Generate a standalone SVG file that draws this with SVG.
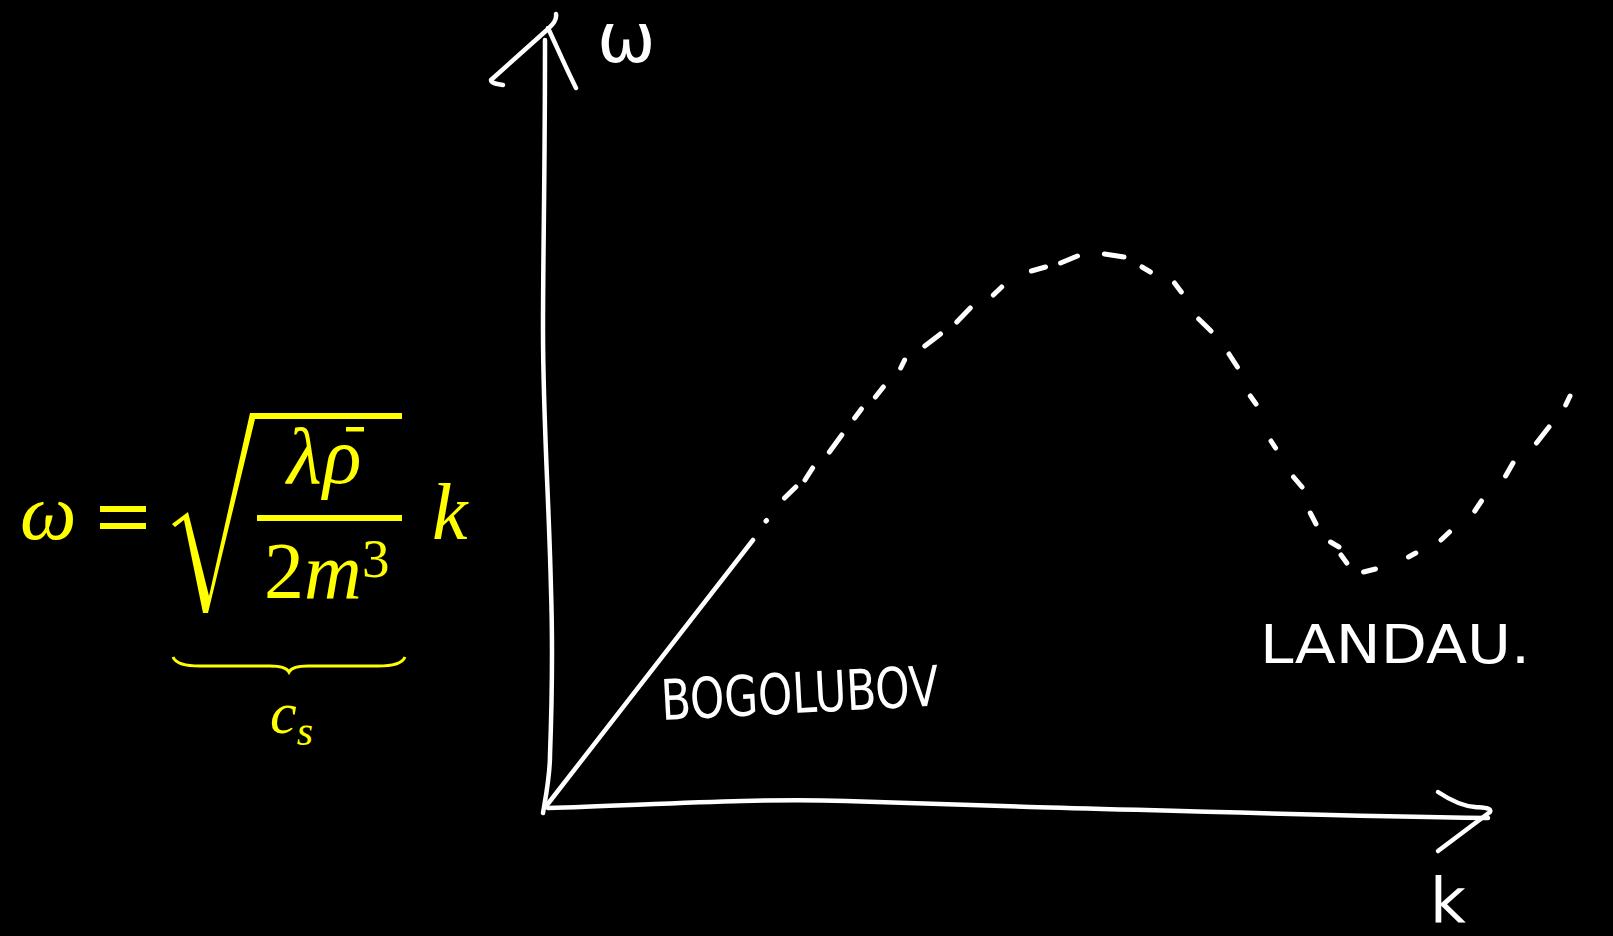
<svg xmlns="http://www.w3.org/2000/svg" width="1613" height="936" viewBox="0 0 1613 936">
<style>
.ink{fill:none;stroke:#ffffff;stroke-width:4.5;stroke-linecap:round;stroke-linejoin:round}
.dash{fill:none;stroke:#ffffff;stroke-width:5;stroke-linecap:round}
.hand{fill:#ffffff;font-family:"DejaVu Sans",sans-serif}
.eq{fill:#ffff00;font-family:"Liberation Serif","Times New Roman",serif}
.it{font-style:italic}
</style>
<rect x="0" y="0" width="1613" height="936" fill="#000000"/>
<g id="equation">
  <text class="eq it" x="20" y="539" font-size="80">ω</text>
  <rect x="100" y="506" width="46" height="6" fill="#ffff00"/>
  <rect x="100" y="523" width="46" height="6" fill="#ffff00"/>
  <polygon fill="#ffff00" points="172,524 188,512 209,596 250,413 402,413 402,419 255,419 208,613 203,613 184,520 175,527"/>
  <text class="eq it" x="287" y="483" font-size="80">λ</text>
  <text class="eq it" x="323" y="483" font-size="80">ρ</text>
  <rect x="346" y="427" width="18" height="4.5" fill="#ffff00"/>
  <rect x="257" y="515" width="145" height="6" fill="#ffff00"/>
  <text class="eq" x="264" y="598" font-size="80">2<tspan class="it">m</tspan></text>
  <text class="eq" x="362" y="577" font-size="55">3</text>
  <text class="eq it" x="432" y="539" font-size="80">k</text>
  <path d="M 173,657 C 176,664 185,666 200,666 L 270,666 C 282,666 287,668 289,672 C 291,668 296,666 308,666 L 378,666 C 393,666 402,664 405,657" fill="none" stroke="#ffff00" stroke-width="3"/>
  <text class="eq it" x="270" y="733" font-size="60">c<tspan font-size="42" dy="12">s</tspan></text>
</g>
<g id="axes">
  <path class="ink" d="M 543,813 C 547,790 550,775 550,755 C 552,700 553,650 551,590 C 549,500 543,420 543,330 C 543,250 545,180 545,40"/>
  <path class="ink" d="M 503,85 C 497,84 491,83 491,80 L 548,29 C 553,24 557,20 556,14 M 548,28 C 556,45 566,68 576,88"/>
  <path class="ink" d="M 548,808 C 650,805 750,798 846,801 C 950,804 1000,806 1030,807 C 1150,810 1300,815 1488,818"/>
  <path class="ink" d="M 1438,792 C 1450,800 1462,806 1475,807 C 1485,808 1492,808 1490,812 L 1438,851"/>
</g>
<g id="connectors">
  <path class="ink" d="M 547,805 L 753,540"/>
  <path class="dash" d="M 766,521 L 766.5,520.5 M 784.5,498 L 795.8,487 M 805,480 L 812.6,468 M 829.4,452 L 841.8,435 M 854.7,418 L 861.4,409 M 875.4,397 L 883.3,387 M 900.7,368 L 904.6,360 M 924.8,346 L 940.5,334 M 956.8,322 L 970.3,308 M 993.3,295 L 1001.7,287 M 1031.4,271 L 1045.5,267 M 1060.6,263 L 1077.5,256 M 1104.4,254 L 1124,257 M 1142,267 L 1150.4,272 M 1174.5,283 L 1181.3,292 M 1198.7,319 L 1211,331 M 1229,354 L 1237.4,367 M 1250.3,396 L 1256,404 M 1271,441 L 1275.6,448 M 1293.5,477 L 1302,487 M 1310.3,513 L 1316,524 M 1330.5,542 L 1339,547 M 1341,555 L 1346.8,563 M 1363.6,572 L 1375.5,569 M 1408.5,557 L 1415.8,553 M 1441,540 L 1449.5,532 M 1474.8,511 L 1481.5,501 M 1505.6,476 L 1513,463 M 1536.5,443 L 1549,427 M 1565.7,405 L 1570,396"/>
</g>
<g id="labels">
  <text class="hand" x="597" y="62" font-size="70">ω</text>
  <text class="hand" x="1430" y="922" font-size="62">k</text>
  <text class="hand" x="662" y="720" font-size="56" textLength="278" lengthAdjust="spacingAndGlyphs" transform="rotate(-3 662 720)">BOGOLUBOV</text>
  <text class="hand" x="1260" y="663" font-size="53" textLength="270" lengthAdjust="spacingAndGlyphs">LANDAU.</text>
</g>
</svg>
